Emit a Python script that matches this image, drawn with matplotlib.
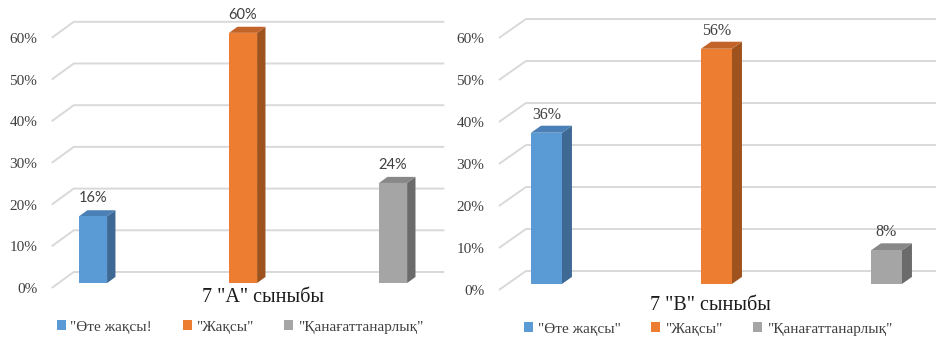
import matplotlib
matplotlib.use('Agg')
import matplotlib.pyplot as plt
from matplotlib.patches import Polygon, Patch

# data
cats_a = ['"Өте жақсы!', '"Жақсы"', '"Қанағаттанарлық"']
cats_b = ['"Өте жақсы"', '"Жақсы"', '"Қанағаттанарлық"']
vals_a = [16, 60, 24]
vals_b = [36, 56, 8]
yticks = [0, 10, 20, 30, 40, 50, 60]
ytick_labels = ['0%', '10%', '20%', '30%', '40%', '50%', '60%']
title_a = '7 "А" сыныбы'
title_b = '7 "В" сыныбы'

fronts = ['#5b9bd5', '#ed7d31', '#a5a5a5']
sides = ['#3d6994', '#9e521e', '#6b6b6b']
tops = ['#4a80b6', '#c2642a', '#888888']

SERIF = ['Liberation Serif', 'DejaVu Serif']
SANS = ['Lato', 'DejaVu Sans']
plt.rcParams['font.family'] = SERIF

W, H = 937, 337
fig = plt.figure(figsize=(W / 100, H / 100), dpi=100)
fig.patch.set_facecolor('white')


def px_axes(l, t, r, b):
    return fig.add_axes([l / W, (H - b) / H, (r - l) / W, (b - t) / H])


def draw_panel(ax, vals, cats, conf, lab_font, lab_size):
    dx, dy = conf['dx'], conf['dy']
    xl, xr = conf['xl'], conf['xr']
    # floor / back wall gridlines
    for t in yticks:
        ax.plot([xl, xl + dx, xr + dx], [t, t + dy, t + dy],
                color='#d9d9d9', lw=1.4, zorder=1, solid_capstyle='butt')
    d0, bd, w = conf['d0'], conf['bd'], conf['w']
    for i, v in enumerate(vals):
        x0 = i - w / 2 + d0 * dx
        x1 = i + w / 2 + d0 * dx
        y0 = d0 * dy
        y1 = v + d0 * dy
        ox, oy = bd * dx, bd * dy
        ax.add_patch(Polygon([(x1, y0), (x1 + ox, y0 + oy), (x1 + ox, y1 + oy), (x1, y1)],
                             closed=True, fc=sides[i], ec='none', zorder=3))
        ax.add_patch(Polygon([(x0, y1), (x1, y1), (x1 + ox, y1 + oy), (x0 + ox, y1 + oy)],
                             closed=True, fc=tops[i], ec='none', zorder=3))
        ax.bar(x0, v, width=w, bottom=y0, align='edge', color=fronts[i],
               edgecolor='none', zorder=4)
        ax.annotate('%d%%' % v, ((x0 + x1) / 2, y1), xytext=(0, 13),
                    textcoords='offset points', ha='center', va='center',
                    fontsize=lab_size, family=lab_font, color='#404040')
    ax.set_xlim(conf['xlim'])
    ax.set_ylim(conf['ylim'])
    ax.set_xticks([])
    ax.set_yticks(yticks)
    ax.set_yticklabels(ytick_labels, family=SERIF, fontsize=11, color='#404040')
    ax.tick_params(axis='y', length=0, pad=2)
    for s in ax.spines.values():
        s.set_visible(False)
    ax.patch.set_alpha(0)


conf_a = dict(dx=0.147, dy=3.84, d0=0.31, bd=0.38, w=0.187, xl=-0.23, xr=2.24,
              xlim=(-0.308, 2.425), ylim=(-0.96, 65.47))
conf_b = dict(dx=0.159, dy=4.52, d0=0.32, bd=0.37, w=0.182, xl=-0.229, xr=2.23,
              xlim=(-0.299, 2.348), ylim=(-0.95, 65.48))

ax1 = px_axes(40, 15, 450, 292)
draw_panel(ax1, vals_a, cats_a, conf_a, SANS, 10.5)
ax2 = px_axes(487, 15, 937, 294)
draw_panel(ax2, vals_b, cats_b, conf_b, SERIF, 11.5)

fig.text(263 / W, 1 - 298 / H, title_a, ha='center', va='center',
         family=SERIF, fontsize=14.5, color='#1a1a1a')
fig.text(710 / W, 1 - 305 / H, title_b, ha='center', va='center',
         family=SERIF, fontsize=14.5, color='#1a1a1a')

for cats, cx, cy in [(cats_a, 240, 327), (cats_b, 708, 329)]:
    handles = [Patch(fc=fronts[i], ec='none', label=c) for i, c in enumerate(cats)]
    fig.legend(handles=handles, ncol=3, loc='center',
               bbox_to_anchor=(cx / W, 1 - cy / H), frameon=False,
               prop={'family': SERIF, 'size': 11}, labelcolor='#404040',
               handlelength=0.6, handleheight=0.6, handletextpad=0.3,
               columnspacing=2.0, borderpad=0)

fig.savefig('out.png', dpi=100)
